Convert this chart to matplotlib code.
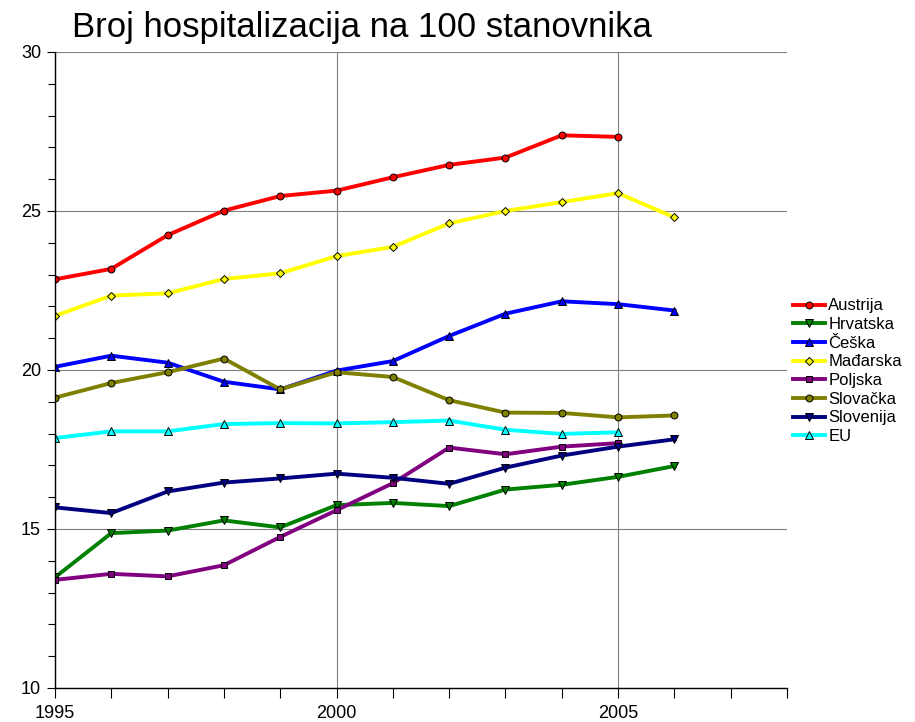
import matplotlib

matplotlib.use("Agg")
import matplotlib.pyplot as plt
from matplotlib.ticker import MultipleLocator

plt.rcParams["font.family"] = ["Liberation Sans", "DejaVu Sans"]

years = list(range(1995, 2007))

austrija = [22.85, 23.18, 24.24, 25.01, 25.47, 25.64, 26.06, 26.45, 26.68, 27.38, 27.33]
hrvatska = [13.48, 14.87, 14.95, 15.27, 15.05, 15.75, 15.82, 15.72, 16.24, 16.39, 16.64, 16.98]
ceska = [20.10, 20.45, 20.23, 19.63, 19.39, 19.98, 20.28, 21.07, 21.77, 22.16, 22.07, 21.87]
madarska = [21.70, 22.34, 22.41, 22.86, 23.04, 23.58, 23.87, 24.61, 25.00, 25.28, 25.56, 24.80]
poljska = [13.40, 13.59, 13.51, 13.86, 14.75, 15.59, 16.44, 17.56, 17.35, 17.59, 17.70]
slovacka = [19.13, 19.59, 19.93, 20.36, 19.39, 19.93, 19.78, 19.05, 18.66, 18.65, 18.51, 18.57]
slovenija = [15.68, 15.50, 16.18, 16.46, 16.59, 16.74, 16.61, 16.42, 16.93, 17.31, 17.59, 17.82]
eu = [17.86, 18.07, 18.07, 18.30, 18.33, 18.32, 18.36, 18.41, 18.12, 17.99, 18.04]

series = [
    ("Austrija", austrija, "#ff0000", "o"),
    ("Hrvatska", hrvatska, "#008000", "v"),
    ("Češka", ceska, "#0000ff", "^"),
    ("Mađarska", madarska, "#ffff00", "D"),
    ("Poljska", poljska, "#800080", "s"),
    ("Slovačka", slovacka, "#808000", "o"),
    ("Slovenija", slovenija, "#000080", "v"),
    ("EU", eu, "#00ffff", "^"),
]
marker_sizes = {"o": 5, "v": 5.5, "^": 5.5, "D": 4.3, "s": 5}

fig = plt.figure(figsize=(9.15, 7.22), dpi=100)
ax = fig.add_axes([0.0601, 0.0471, 0.8, 0.8809])

for name, vals, color, marker in series:
    ax.plot(years[:len(vals)], vals, color=color, linewidth=2.8, marker=marker,
            markersize=marker_sizes[marker], markerfacecolor=color, markeredgecolor="black",
            markeredgewidth=0.7, label=name)

ax.set_xlim(1995, 2008)
ax.set_ylim(10, 30)
ax.xaxis.set_major_locator(MultipleLocator(5))
ax.xaxis.set_minor_locator(MultipleLocator(1))
ax.yaxis.set_major_locator(MultipleLocator(5))
ax.yaxis.set_minor_locator(MultipleLocator(1))
ax.grid(True, which="major", color="#808080", linewidth=0.8)
ax.set_axisbelow(True)

for side in ("top", "right"):
    ax.spines[side].set_visible(False)
ax.spines["left"].set_linewidth(1.0)
ax.spines["bottom"].set_linewidth(1.0)

ax.tick_params(axis="y", which="major", direction="out", length=6, width=0.8, labelsize=13, pad=4)
ax.tick_params(axis="y", which="minor", direction="out", length=5, width=0.8)
ax.tick_params(axis="x", which="major", direction="out", length=7, width=0.8, labelsize=13, pad=5)
ax.tick_params(axis="x", which="minor", direction="out", length=7, width=0.8)

fig.text(0.079, 0.962, "Broj hospitalizacija na 100 stanovnika", fontsize=25, va="center", ha="left")

ax.legend(loc="center left", bbox_to_anchor=(0.995, 0.498), frameon=False, fontsize=12,
          handlelength=1.9, handletextpad=0.2, labelspacing=0.22, borderaxespad=0.2)

fig.savefig("out.png", dpi=100)
